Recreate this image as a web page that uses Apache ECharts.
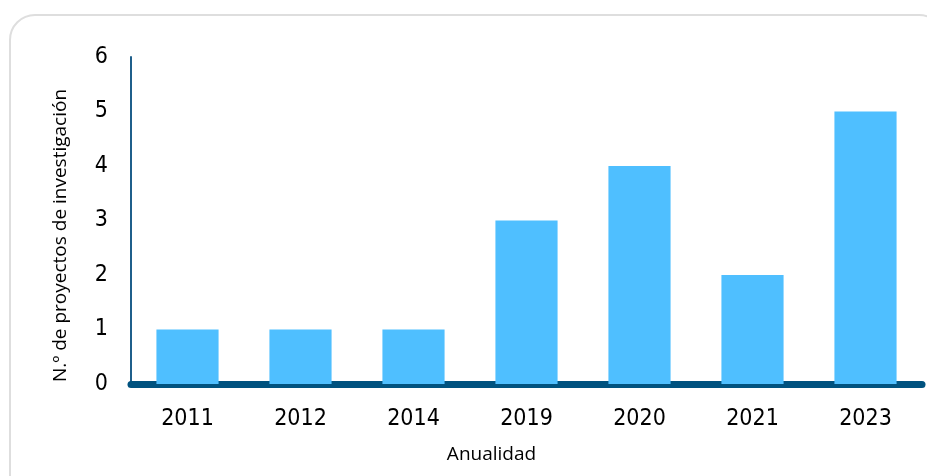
<!DOCTYPE html>
<html><head><meta charset="utf-8">
<script src="https://cdn.jsdelivr.net/npm/echarts@6/dist/echarts.min.js"></script>
<style>html,body{margin:0;padding:0;background:#fff}#c{width:927px;height:476px}</style>
</head><body><div id="c"></div>
<script>
const categories = ['2011','2012','2014','2019','2020','2021','2023'];
const values = [1,1,1,3,4,2,5];
const yTicks = [0,1,2,3,4,5,6];

const chart = echarts.init(document.getElementById('c'));
chart.setOption({
  animation: false,
  graphic: [{
    type: 'rect', left: 9, top: 14, z: -10,
    shape: { width: 934, height: 500, r: 25 },
    style: { fill: '#fff', stroke: '#dedede', lineWidth: 2 }
  }],
  grid: { left: 131, right: 5, top: 57, bottom: 92, containLabel: false },
  xAxis: {
    type: 'category', data: categories,
    name: 'Anualidad', nameLocation: 'middle', nameGap: 61,
    nameTextStyle: { fontFamily: 'Open Sans', fontSize: 19, color: '#000', padding: [0, 70, 0, 0] },
    axisLine: { lineStyle: { color: '#00527f', width: 7 } },
    axisTick: { show: false },
    axisLabel: { fontFamily: 'DejaVu Sans Condensed', fontSize: 23, color: '#000', margin: 24 }
  },
  yAxis: {
    type: 'value', min: yTicks[0], max: yTicks[yTicks.length-1], interval: 1,
    name: 'N.º de proyectos de investigación', nameLocation: 'middle', nameGap: 61,
    nameTextStyle: { fontFamily: 'Open Sans', fontSize: 19, color: '#000', padding: [0, 30, 0, 0] },
    axisLine: { show: true, lineStyle: { color: '#1f5f8b', width: 2 } },
    axisTick: { show: false },
    splitLine: { show: false },
    axisLabel: { fontFamily: 'DejaVu Sans Condensed', fontSize: 23, color: '#000', margin: 23 }
  },
  series: [{
    type: 'bar', data: values, barWidth: '55%',
    itemStyle: { color: '#4fbfff' }
  }]
});
</script></body></html>
